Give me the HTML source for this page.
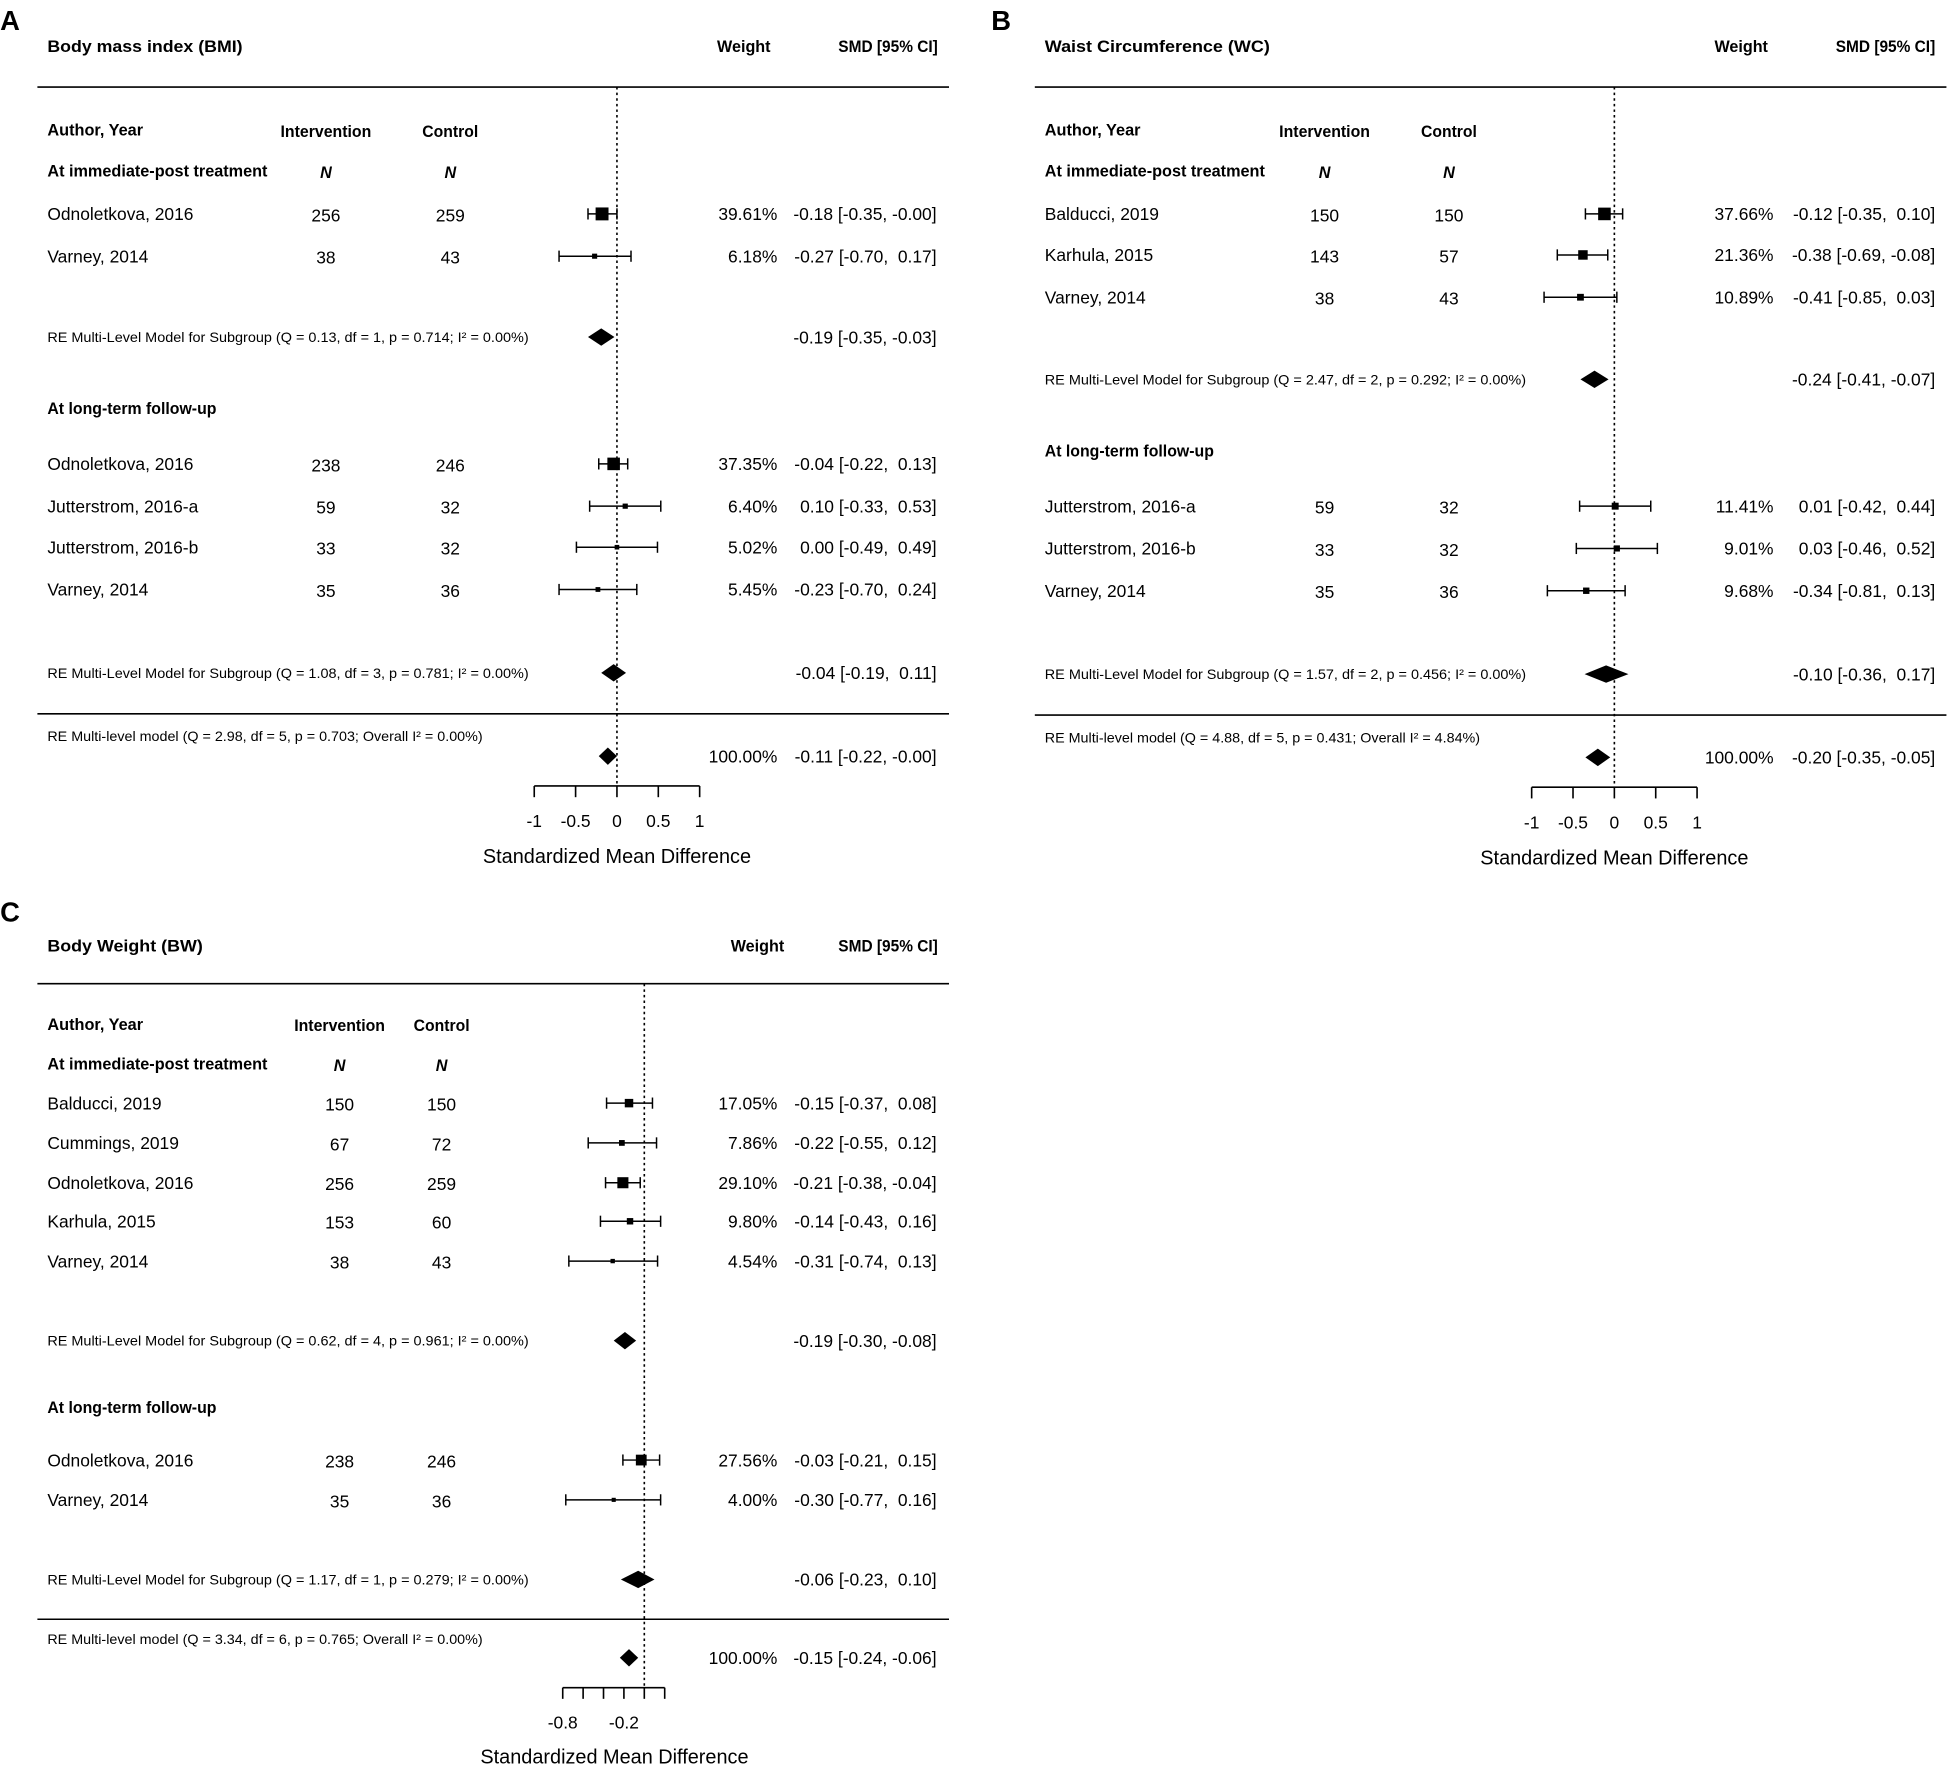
<!DOCTYPE html>
<html><head><meta charset="utf-8"><style>
html,body{margin:0;padding:0;background:#fff;}
svg{display:block;}
text{font-family:"Liberation Sans",Arial,sans-serif;fill:#000;white-space:pre;}
.b{font-weight:bold;font-size:13px;}
.r{font-size:14px;}
.s{font-size:11px;}
</style></head><body>
<svg id="fig" width="1949" height="1766" viewBox="0 0 1567 1420" xmlns="http://www.w3.org/2000/svg"></svg>
<script>
// ===== Panel A: BMI =====
const aStudies = ["Odnoletkova, 2016","Varney, 2014","Odnoletkova, 2016","Jutterstrom, 2016-a","Jutterstrom, 2016-b","Varney, 2014"];
const aNI = [256,38,238,59,33,35];
const aNC = [259,43,246,32,32,36];
const aEst = [-0.18,-0.27,-0.04,0.10,0.00,-0.23];
const aLo = [-0.35,-0.70,-0.22,-0.33,-0.49,-0.70];
const aHi = [-0.00,0.17,0.13,0.53,0.49,0.24];
const aW = [39.61,6.18,37.35,6.40,5.02,5.45];
const aSubEst = [-0.19,-0.04];
const aSubLo = [-0.35,-0.19];
const aSubHi = [-0.03,0.11];
const aSubText = ["RE Multi-Level Model for Subgroup (Q = 0.13, df = 1, p = 0.714; I² = 0.00%)","RE Multi-Level Model for Subgroup (Q = 1.08, df = 3, p = 0.781; I² = 0.00%)"];
const aOverall = [-0.11,-0.22,-0.00];
const aOverallText = "RE Multi-level model (Q = 2.98, df = 5, p = 0.703; Overall I² = 0.00%)";
const aTicks = [-1,-0.5,0,0.5,1];
const aTickLabels = ["-1","-0.5","0","0.5","1"];

// ===== Panel B: WC =====
const bStudies = ["Balducci, 2019","Karhula, 2015","Varney, 2014","Jutterstrom, 2016-a","Jutterstrom, 2016-b","Varney, 2014"];
const bNI = [150,143,38,59,33,35];
const bNC = [150,57,43,32,32,36];
const bEst = [-0.12,-0.38,-0.41,0.01,0.03,-0.34];
const bLo = [-0.35,-0.69,-0.85,-0.42,-0.46,-0.81];
const bHi = [0.10,-0.08,0.03,0.44,0.52,0.13];
const bW = [37.66,21.36,10.89,11.41,9.01,9.68];
const bSubEst = [-0.24,-0.10];
const bSubLo = [-0.41,-0.36];
const bSubHi = [-0.07,0.17];
const bSubText = ["RE Multi-Level Model for Subgroup (Q = 2.47, df = 2, p = 0.292; I² = 0.00%)","RE Multi-Level Model for Subgroup (Q = 1.57, df = 2, p = 0.456; I² = 0.00%)"];
const bOverall = [-0.20,-0.35,-0.05];
const bOverallText = "RE Multi-level model (Q = 4.88, df = 5, p = 0.431; Overall I² = 4.84%)";
const bTicks = [-1,-0.5,0,0.5,1];
const bTickLabels = ["-1","-0.5","0","0.5","1"];

// ===== Panel C: BW =====
const cStudies = ["Balducci, 2019","Cummings, 2019","Odnoletkova, 2016","Karhula, 2015","Varney, 2014","Odnoletkova, 2016","Varney, 2014"];
const cNI = [150,67,256,153,38,238,35];
const cNC = [150,72,259,60,43,246,36];
const cEst = [-0.15,-0.22,-0.21,-0.14,-0.31,-0.03,-0.30];
const cLo = [-0.37,-0.55,-0.38,-0.43,-0.74,-0.21,-0.77];
const cHi = [0.08,0.12,-0.04,0.16,0.13,0.15,0.16];
const cW = [17.05,7.86,29.10,9.80,4.54,27.56,4.00];
const cSubEst = [-0.19,-0.06];
const cSubLo = [-0.30,-0.23];
const cSubHi = [-0.08,0.10];
const cSubText = ["RE Multi-Level Model for Subgroup (Q = 0.62, df = 4, p = 0.961; I² = 0.00%)","RE Multi-Level Model for Subgroup (Q = 1.17, df = 1, p = 0.279; I² = 0.00%)"];
const cOverall = [-0.15,-0.24,-0.06];
const cOverallText = "RE Multi-level model (Q = 3.34, df = 6, p = 0.765; Overall I² = 0.00%)";
const cTicks = [-0.8,-0.6,-0.4,-0.2,0,0.2];
const cTickLabels = ["-0.8","","","-0.2","",""];

const svg = document.getElementById('fig');
const NS = 'http://www.w3.org/2000/svg';
function el(tag, attrs, parent){
  const e = document.createElementNS(NS, tag);
  for (const k in attrs) e.setAttribute(k, attrs[k]);
  (parent||svg).appendChild(e);
  return e;
}
function txt(parent, x, y, s, cls, anchor, tl){
  const t = el('text', {x:x, y:y, class:cls, 'text-anchor':anchor||'start'}, parent);
  if (tl) { t.setAttribute('textLength', tl); t.setAttribute('lengthAdjust','spacingAndGlyphs'); }
  t.textContent = s;
  return t;
}
function isNeg(v){ return v<0 || Object.is(v,-0); }
function f2(v){ const s = Math.abs(v).toFixed(2); return isNeg(v) ? '-'+s : s; }
function ci(e,l,h){
  return f2(e)+' ['+f2(l)+','+(isNeg(h)?' ':'  ')+f2(h)+']';
}

function drawPanel(P){
  const g = el('g', {});
  
  
  const L = P.layout;
  const X = v => L.x0 + v * L.unit;
  const pl = txt(g, L.letterX, L.letterY, P.letter, '', 'start');
  pl.setAttribute('style','font-size:22px;font-weight:bold');
  
  
  const tt = txt(g, L.left+8, L.title, P.title, 'b', 'start', P.titleLen);
  
  
  txt(g, L.weightHdr, L.title, 'Weight', 'b', 'middle', 43);
  txt(g, L.smdHdr, L.title, 'SMD [95% CI]', 'b', 'middle', 80);
  el('line', {x1:L.left, x2:L.right, y1:L.topLine, y2:L.topLine, stroke:'#000', 'stroke-width':1.3}, g);
  el('line', {x1:L.left, x2:L.right, y1:L.botLine, y2:L.botLine, stroke:'#000', 'stroke-width':1.3}, g);
  txt(g, L.left+8, L.authorHdr, 'Author, Year', 'b', 'start', 77);
  txt(g, L.colI, L.authorHdr+1, 'Intervention', 'b', 'middle', 73);
  txt(g, L.colC, L.authorHdr+1, 'Control', 'b', 'middle', 45);
  txt(g, L.left+8, L.grp[0], 'At immediate-post treatment', 'b', 'start', 177);
  const n1 = txt(g, L.colI, L.grp[0]+1, 'N', 'b', 'middle'); n1.setAttribute('font-style','italic');
  const n2 = txt(g, L.colC, L.grp[0]+1, 'N', 'b', 'middle'); n2.setAttribute('font-style','italic');
  txt(g, L.left+8, L.grp[1], 'At long-term follow-up', 'b', 'start', 136);
  el('line', {x1:X(0), x2:X(0), y1:L.topLine, y2:L.axisY, stroke:'#000', 'stroke-width':1.3, 'stroke-dasharray':'2,2.5'}, g);
  P.studies.forEach((s,i)=>{
    const y = L.rows[i];
    const row = el('g', {}, g);
    
    
    txt(row, L.left+8, y+5, s, 'r');
    txt(row, L.colI, y+6, String(P.nI[i]), 'r', 'middle');
    txt(row, L.colC, y+6, String(P.nC[i]), 'r', 'middle');
    txt(row, L.weightR, y+5, P.w[i].toFixed(2)+'%', 'r', 'end');
    txt(row, L.smdR, y+5, ci(P.est[i], P.lo[i], P.hi[i]), 'r', 'end');
    const ln = el('line', {x1:X(P.lo[i]), x2:X(P.hi[i]), y1:y, y2:y, stroke:'#000', 'stroke-width':1.2}, row);
    
    
    el('line', {x1:X(P.lo[i]), x2:X(P.lo[i]), y1:y-4.5, y2:y+4.5, stroke:'#000', 'stroke-width':1.2}, row);
    el('line', {x1:X(P.hi[i]), x2:X(P.hi[i]), y1:y-4.5, y2:y+4.5, stroke:'#000', 'stroke-width':1.2}, row);
    const sz = 1.65*Math.sqrt(P.w[i]);
    const box = el('rect', {x:X(P.est[i])-sz/2, y:y-sz/2, width:sz, height:sz, fill:'#000'}, row);
    
    
  });
  [0,1].forEach(k=>{
    const y = L.sub[k];
    txt(g, L.left+8, y+4, P.subText[k], 's', 'start', 387);
    txt(g, L.smdR, y+5, ci(P.subEst[k], P.subLo[k], P.subHi[k]), 'r', 'end');
    const d = el('polygon', {points:`${X(P.subLo[k])},${y} ${X(P.subEst[k])},${y-7} ${X(P.subHi[k])},${y} ${X(P.subEst[k])},${y+7}`, fill:'#000'}, g);
    
    
  });
  txt(g, L.left+8, L.overallText, P.overallText, 's', 'start', 350);
  const oy = L.overallY;
  txt(g, L.weightR, oy+5, '100.00%', 'r', 'end');
  txt(g, L.smdR, oy+5, ci(P.overall[0], P.overall[1], P.overall[2]), 'r', 'end');
  const od = el('polygon', {points:`${X(P.overall[1])},${oy} ${X(P.overall[0])},${oy-7} ${X(P.overall[2])},${oy} ${X(P.overall[0])},${oy+7}`, fill:'#000'}, g);
  
  
  const ax = el('g', {}, g);
  
  
  const t0 = P.ticks[0], t1 = P.ticks[P.ticks.length-1];
  el('line', {x1:X(t0), x2:X(t1), y1:L.axisY, y2:L.axisY, stroke:'#000', 'stroke-width':1.3}, ax);
  P.ticks.forEach((t,j)=>{
    el('line', {x1:X(t), x2:X(t), y1:L.axisY, y2:L.axisY+9, stroke:'#000', 'stroke-width':1.3}, ax);
    if (P.tickLabels[j]) txt(ax, X(t), L.axisY+33, P.tickLabels[j], 'r', 'middle');
  });
  const at = txt(ax, L.axisTitleX, L.axisTitle, 'Standardized Mean Difference', '', 'middle');
  at.setAttribute('style','font-size:16px');
  
  
}

drawPanel({name:'panel-a-bmi', letter:'A', title:'Body mass index (BMI)', titleLen:157,
  studies:aStudies, nI:aNI, nC:aNC, est:aEst, lo:aLo, hi:aHi, w:aW,
  subEst:aSubEst, subLo:aSubLo, subHi:aSubHi, subText:aSubText, overall:aOverall, overallText:aOverallText,
  ticks:aTicks, tickLabels:aTickLabels,
  layout:{x0:496, unit:66.5, letterX:0, letterY:24, left:30, right:763, title:42, topLine:70, botLine:574,
    authorHdr:109, grp:[142,333], colI:262, colC:362, weightHdr:598, smdHdr:714, weightR:625, smdR:753,
    rows:[172,206,373,407,440,474], sub:[271,541], overallText:596, overallY:608, axisY:632, axisTitle:694, axisTitleX:496}});

drawPanel({name:'panel-b-wc', letter:'B', title:'Waist Circumference (WC)', titleLen:181,
  studies:bStudies, nI:bNI, nC:bNC, est:bEst, lo:bLo, hi:bHi, w:bW,
  subEst:bSubEst, subLo:bSubLo, subHi:bSubHi, subText:bSubText, overall:bOverall, overallText:bOverallText,
  ticks:bTicks, tickLabels:bTickLabels,
  layout:{x0:1298, unit:66.5, letterX:797, letterY:24, left:832, right:1565, title:42, topLine:70, botLine:575,
    authorHdr:109, grp:[142,367], colI:1065, colC:1165, weightHdr:1400, smdHdr:1516, weightR:1426, smdR:1556,
    rows:[172,205,239,407,441,475], sub:[305,542], overallText:597, overallY:609, axisY:633, axisTitle:695, axisTitleX:1298}});

drawPanel({name:'panel-c-bw', letter:'C', title:'Body Weight (BW)', titleLen:125,
  studies:cStudies, nI:cNI, nC:cNC, est:cEst, lo:cLo, hi:cHi, w:cW,
  subEst:cSubEst, subLo:cSubLo, subHi:cSubHi, subText:cSubText, overall:cOverall, overallText:cOverallText,
  ticks:cTicks, tickLabels:cTickLabels,
  layout:{x0:518, unit:82, letterX:0, letterY:741, left:30, right:763, title:765, topLine:791, botLine:1302,
    authorHdr:828, grp:[860,1136], colI:273, colC:355, weightHdr:609, smdHdr:714, weightR:625, smdR:753,
    rows:[887,919,951,982,1014,1174,1206], sub:[1078,1270], overallText:1322, overallY:1333, axisY:1357, axisTitle:1418, axisTitleX:494}});
</script>
</body></html>
